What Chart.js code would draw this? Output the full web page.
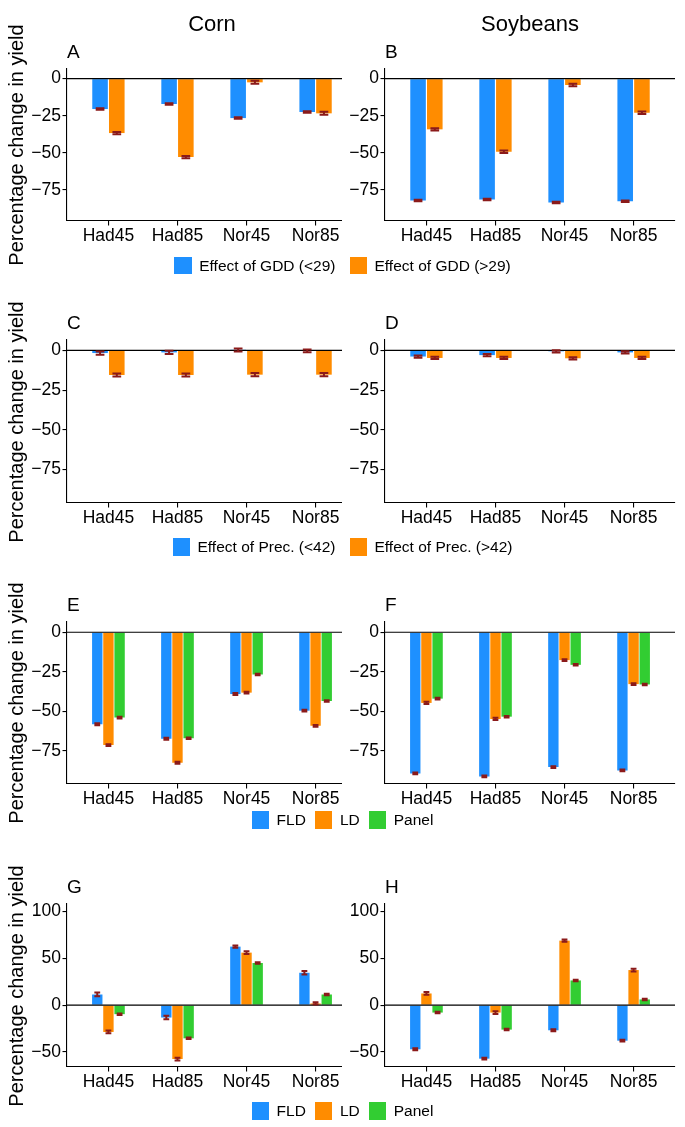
<!DOCTYPE html>
<html>
<head>
<meta charset="utf-8">
<script src="https://cdn.jsdelivr.net/npm/chart.js@4.4.0/dist/chart.umd.min.js"></script>
<style>
  body { margin: 0; background: #fff; }
  #fig { position: relative; width: 685px; height: 1127px; overflow: hidden; background: #fff;
         font-family: "Liberation Sans", Arial, sans-serif; color: #000; }
  .panel { position: absolute; }
  .panel.right { background: #fff; z-index: 2; }
  .txt { position: absolute; line-height: 1; white-space: nowrap; z-index: 3; }
  .coltitle { font-size: 22px; transform: translateX(-50%); }
  .letter { font-size: 19px; }
  .ytitle { font-size: 20px; transform: translate(-50%, -50%) rotate(-90deg); }
  .legend { position: absolute; left: 0; width: 685px; height: 18px; display: flex;
            justify-content: center; align-items: center; font-size: 15.5px; z-index: 3; }
  .legend .item { display: flex; align-items: center; }
  .legend .key { width: 17.5px; height: 17.5px; margin-right: 7.5px; }
</style>
</head>
<body>
<div id="fig"></div>
<script>
  // categories
  const scenarios = ["Had45", "Had85", "Nor45", "Nor85"];

  // tick labels
  const yTicksLoss = [0, -25, -50, -75];
  const yTicksMixed = [100, 50, 0, -50];

  // legend labels
  const legendGdd = ["Effect of GDD (<29)", "Effect of GDD (>29)"];
  const legendPrec = ["Effect of Prec. (<42)", "Effect of Prec. (>42)"];
  const legendModels = ["FLD", "LD", "Panel"];

  // A: corn, GDD effects
  const cornGddLow = [-20.5, -17.1, -26.6, -22.5];
  const cornGddLowErr = [0.5, 0.5, 0.5, 0.5];
  const cornGddHigh = [-36.7, -52.9, -2.5, -23.4];
  const cornGddHighErr = [0.8, 0.8, 1.0, 1.0];
  // B: soybeans, GDD effects
  const soyGddLow = [-82.2, -81.5, -83.6, -82.7];
  const soyGddLowErr = [0.5, 0.5, 0.5, 0.5];
  const soyGddHigh = [-34.2, -49.3, -4.3, -23.0];
  const soyGddHighErr = [0.8, 0.8, 0.8, 0.8];

  // C: corn, precipitation effects
  const cornPrecLow = [-1.7, -1.3, 0.2, -0.3];
  const cornPrecLowErr = [1.0, 1.0, 0.9, 0.9];
  const cornPrecHigh = [-15.5, -15.5, -15.3, -15.3];
  const cornPrecHighErr = [1.0, 1.0, 1.0, 1.0];
  // D: soybeans, precipitation effects
  const soyPrecLow = [-3.9, -3.0, -0.6, -1.3];
  const soyPrecLowErr = [0.7, 0.7, 0.7, 0.7];
  const soyPrecHigh = [-4.8, -4.8, -5.0, -4.8];
  const soyPrecHighErr = [0.7, 0.7, 0.7, 0.7];

  // E: corn, model comparison
  const cornFld = [-58.2, -67.4, -39.1, -49.6];
  const cornFldErr = [0.6, 0.6, 0.6, 0.6];
  const cornLd = [-71.4, -82.6, -38.2, -59.2];
  const cornLdErr = [0.6, 0.6, 0.6, 0.6];
  const cornPanel = [-54.0, -67.0, -26.7, -43.5];
  const cornPanelErr = [0.5, 0.5, 0.5, 0.5];
  // F: soybeans, model comparison
  const soyFld = [-89.3, -91.2, -85.3, -87.4];
  const soyFldErr = [0.5, 0.5, 0.5, 0.5];
  const soyLd = [-44.7, -54.8, -17.6, -32.8];
  const soyLdErr = [0.7, 0.7, 0.6, 0.6];
  const soyPanel = [-42.0, -53.4, -20.6, -33.0];
  const soyPanelErr = [0.5, 0.5, 0.5, 0.5];

  // G: corn, second model comparison
  const cornFld2 = [11.4, -13.2, 62.5, 34.6];
  const cornFld2Err = [2.0, 1.8, 1.2, 1.8];
  const cornLd2 = [-28.6, -57.5, 56.1, 1.8];
  const cornLd2Err = [1.5, 1.5, 1.5, 1.2];
  const cornPanel2 = [-9.6, -35.4, 45.0, 11.4];
  const cornPanel2Err = [0.8, 0.8, 0.8, 0.8];
  // H: soybeans, second model comparison
  const soyFld2 = [-47.1, -57.1, -26.8, -37.9];
  const soyFld2Err = [1.0, 1.0, 1.0, 1.0];
  const soyLd2 = [12.5, -7.9, 68.9, 37.5];
  const soyLd2Err = [1.5, 1.5, 1.2, 1.5];
  const soyPanel2 = [-7.9, -26.1, 26.4, 6.1];
  const soyPanel2Err = [0.8, 0.8, 0.8, 0.8];

  const BLUE = "#1E90FF", ORANGE = "#FF8C00", GREEN = "#32CD32", ERRCOL = "#8B1A1A";
  const FONT = '"Liberation Sans", Arial, sans-serif';

  // layout of the grid (pixels)
  const cols = [
    { left: 17, axis: 67, right: 359, title: "Corn" },
    { left: 342, axis: 385, right: 685, title: "Soybeans" }
  ];
  const rows = [
    { top: 69, bottom: 221, yMin: -96, yMax: 6.5, ticks: yTicksLoss, legend: legendGdd, legendY: 265.5, gap: 14 },
    { top: 340, bottom: 503, yMin: -96, yMax: 6.5, ticks: yTicksLoss, legend: legendPrec, legendY: 547, gap: 14 },
    { top: 622, bottom: 784, yMin: -96, yMax: 6.5, ticks: yTicksLoss, legend: legendModels, legendY: 820, gap: 9 },
    { top: 904, bottom: 1067, yMin: -66, yMax: 108, ticks: yTicksMixed, legend: legendModels, legendY: 1111, gap: 9 }
  ];

  const panels = [
    { row: 0, col: 0, letter: "A", series: [[cornGddLow, cornGddLowErr, BLUE], [cornGddHigh, cornGddHighErr, ORANGE]] },
    { row: 0, col: 1, letter: "B", series: [[soyGddLow, soyGddLowErr, BLUE], [soyGddHigh, soyGddHighErr, ORANGE]] },
    { row: 1, col: 0, letter: "C", series: [[cornPrecLow, cornPrecLowErr, BLUE], [cornPrecHigh, cornPrecHighErr, ORANGE]] },
    { row: 1, col: 1, letter: "D", series: [[soyPrecLow, soyPrecLowErr, BLUE], [soyPrecHigh, soyPrecHighErr, ORANGE]] },
    { row: 2, col: 0, letter: "E", series: [[cornFld, cornFldErr, BLUE], [cornLd, cornLdErr, ORANGE], [cornPanel, cornPanelErr, GREEN]] },
    { row: 2, col: 1, letter: "F", series: [[soyFld, soyFldErr, BLUE], [soyLd, soyLdErr, ORANGE], [soyPanel, soyPanelErr, GREEN]] },
    { row: 3, col: 0, letter: "G", series: [[cornFld2, cornFld2Err, BLUE], [cornLd2, cornLd2Err, ORANGE], [cornPanel2, cornPanel2Err, GREEN]] },
    { row: 3, col: 1, letter: "H", series: [[soyFld2, soyFld2Err, BLUE], [soyLd2, soyLd2Err, ORANGE], [soyPanel2, soyPanel2Err, GREEN]] }
  ];

  const fig = document.getElementById("fig");

  function addText(cls, text, left, top) {
    const d = document.createElement("div");
    d.className = "txt " + cls;
    d.textContent = text;
    d.style.left = left + "px";
    d.style.top = top + "px";
    fig.appendChild(d);
    return d;
  }

  // zero line + error bars drawn on top of the bars
  const overlay = {
    id: "overlay",
    afterDatasetsDraw(chart) {
      const ctx = chart.ctx, ys = chart.scales.y, area = chart.chartArea;
      ctx.save();
      const y0 = ys.getPixelForValue(0);
      ctx.strokeStyle = "#000";
      ctx.lineWidth = 1.1;
      ctx.beginPath();
      ctx.moveTo(area.left, y0);
      ctx.lineTo(area.right, y0);
      ctx.stroke();

      ctx.strokeStyle = ERRCOL;
      ctx.lineWidth = 2;
      chart.data.datasets.forEach((ds, i) => {
        chart.getDatasetMeta(i).data.forEach((bar, j) => {
          const v = ds.data[j].y, e = ds.errors[j];
          const y1 = ys.getPixelForValue(v - e), y2 = ys.getPixelForValue(v + e);
          const half = bar.width * 0.28;
          ctx.beginPath();
          ctx.moveTo(bar.x, y1); ctx.lineTo(bar.x, y2);
          ctx.moveTo(bar.x - half, y1); ctx.lineTo(bar.x + half, y1);
          ctx.moveTo(bar.x - half, y2); ctx.lineTo(bar.x + half, y2);
          ctx.stroke();
        });
      });
      ctx.restore();
    }
  };

  const minus = v => (v < 0 ? "\u2212" + Math.abs(v) : String(v));

  panels.forEach(p => {
    const r = rows[p.row], c = cols[p.col];
    const box = document.createElement("div");
    box.className = "panel" + (p.col === 1 ? " right" : "");
    box.style.left = c.left + "px";
    box.style.top = (r.top - 20) + "px";
    box.style.width = (c.right - c.left) + "px";
    box.style.height = (r.bottom - r.top + 50) + "px";
    const cv = document.createElement("canvas");
    box.appendChild(cv);
    fig.appendChild(box);

    const datasets = p.series.map(([vals, errs, color]) => ({
      data: vals.map((v, i) => ({ x: i + 1, y: v })),
      errors: errs,
      backgroundColor: color,
      borderWidth: 0,
      categoryPercentage: 0.485,
      barPercentage: 0.93
    }));

    new Chart(cv, {
      type: "bar",
      data: { datasets },
      options: {
        animation: false,
        responsive: true,
        maintainAspectRatio: false,
        layout: { padding: { top: 20, left: 0, bottom: 0, right: c.right - c.axis - 290 } },
        plugins: { legend: { display: false }, tooltip: { enabled: false } },
        scales: {
          x: {
            type: "linear", min: 0.4, max: 4.6, offset: false,
            afterBuildTicks: s => { s.ticks = scenarios.map((_, i) => ({ value: i + 1 })); },
            afterFit: s => { s.height = 30; },
            grid: { drawOnChartArea: false, offset: false, color: "#000", lineWidth: 1.1, tickLength: 4.5 },
            border: { color: "#000", width: 1.1 },
            ticks: { color: "#000", font: { family: FONT, size: 17.5 }, padding: 0,
                     maxRotation: 0, autoSkip: false, callback: v => scenarios[v - 1] }
          },
          y: {
            min: r.yMin, max: r.yMax,
            afterBuildTicks: s => { s.ticks = r.ticks.map(v => ({ value: v })); },
            afterFit: s => { s.width = c.axis - c.left; },
            grid: { drawOnChartArea: false, color: "#000", lineWidth: 1.1, tickLength: 4.5 },
            border: { color: "#000", width: 1.1 },
            ticks: { color: "#000", font: { family: FONT, size: 17.5 }, padding: 1.5, callback: minus }
          }
        }
      },
      plugins: [overlay]
    });

    addText("letter", p.letter, c.axis, r.top - 11 - 16.1);
  });

  // column titles
  cols.forEach(c => addText("coltitle", c.title, (c.axis + c.axis + 290) / 2, 32 - 18.6));

  // y-axis titles and legends for each row
  rows.forEach(r => {
    addText("ytitle", "Percentage change in yield", 16, (r.top + r.bottom) / 2);
    const lg = document.createElement("div");
    lg.className = "legend";
    lg.style.top = (r.legendY - 9) + "px";
    lg.style.gap = r.gap + "px";
    const colors = [BLUE, ORANGE, GREEN];
    r.legend.forEach((label, i) => {
      const it = document.createElement("div");
      it.className = "item";
      const k = document.createElement("div");
      k.className = "key";
      k.style.background = colors[i];
      const t = document.createElement("span");
      t.textContent = label;
      it.appendChild(k);
      it.appendChild(t);
      lg.appendChild(it);
    });
    fig.appendChild(lg);
  });
</script>
</body>
</html>
